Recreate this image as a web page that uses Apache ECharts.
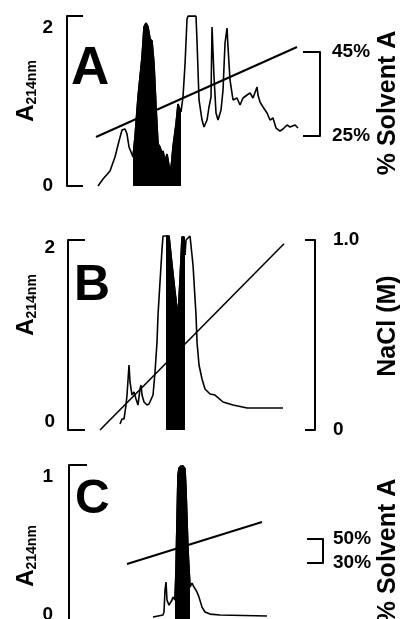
<!DOCTYPE html>
<html>
<head>
<meta charset="utf-8">
<script src="https://cdn.jsdelivr.net/npm/echarts@6/dist/echarts.min.js"></script>
<style>
html,body{margin:0;padding:0;background:#fff;}
#chart{width:401px;height:619px;}
</style>
</head>
<body>
<div id="chart"></div>
<script>
// ---- Data (x: relative elution position 0-100, y: absorbance / gradient) ----
const panelLetters = ['A', 'B', 'C'];

const aTrace = [[12.25,0],[14.23,0.089],[17.0,0.19],[18.97,0.367],[20.56,0.57],[21.74,0.709],[22.93,0.722],[23.72,0.658],[24.51,0.494],[26.09,0.367],[26.88,0.62],[28.07,1.127],[29.65,1.633],[30.44,2.013],[31.23,2.063],[32.02,2.013],[32.81,1.861],[33.6,1.835],[34.39,1.544],[35.18,1.0],[35.97,0.532],[36.76,0.494],[37.55,0.405],[37.95,0.443],[38.74,0.304],[39.53,0.405],[40.32,0.253],[41.11,0.215],[41.9,0.494],[43.09,0.785],[43.88,1.038],[44.27,1.0],[45.06,0.937],[45.85,1.127],[46.65,1.544],[47.44,2.114],[47.83,2.15],[50.99,2.15],[51.39,1.835],[52.18,1.089],[53.37,0.835],[54.16,0.747],[55.34,0.835],[56.13,1.0],[56.92,1.127],[57.32,2.013],[57.71,2.013],[58.11,1.38],[58.9,0.924],[59.69,0.835],[60.88,0.962],[61.67,1.215],[62.46,1.81],[63.25,2.0],[63.64,1.759],[64.43,1.342],[65.62,1.089],[67.2,1.114],[68.39,1.025],[69.57,1.114],[71.15,1.152],[72.34,1.177],[73.53,1.114],[75.11,1.253],[75.5,1.152],[76.29,1.063],[77.48,1.0],[79.06,0.924],[80.25,0.835],[81.43,0.861],[82.62,0.734],[84.2,0.696],[85.39,0.722],[86.97,0.772],[88.15,0.747],[90.13,0.772],[91.31,0.734]];
const aFillRange = [26.09, 45.06];
const aGradient = [[11.46,24.76],[90.92,46.19]];
const aTicksLeft = [0, 2];
const aTicksRight = [25, 45];

const bTrace = [[21.05,-0.023],[21.86,0.034],[22.67,0.034],[23.48,0.195],[23.89,0.31],[24.70,0.655],[25.10,0.46],[25.91,0.31],[26.72,0.345],[27.53,0.264],[28.34,0.195],[29.15,0.379],[29.56,0.425],[29.96,0.31],[30.77,0.23],[31.99,0.195],[32.80,0.207],[34.42,0.31],[35.23,0.575],[36.04,0.92],[36.44,1.23],[37.25,1.609],[38.06,1.989],[38.47,2.138],[39.68,2.138],[40.89,2.138],[42.11,1.805],[43.32,1.494],[44.54,1.207],[45.35,1.632],[46.16,2.126],[46.97,2.126],[47.37,1.92],[47.78,2.092],[49.40,2.138],[50.61,1.805],[51.83,1.23],[52.23,0.92],[53.04,0.655],[54.26,0.494],[55.47,0.379],[57.50,0.322],[59.52,0.31],[62.76,0.23],[66.81,0.195],[72.48,0.161],[87.05,0.161]];
const bFillRange = [39.68, 47.37];
const bGradient = [[12.96,0],[87.46,0.98]];
const bTicksLeft = [0, 2];
const bTicksRight = [0, 1];

const cTrace = [[33.07,-0.014],[37.01,0],[37.40,0.022],[37.80,0.181],[38.19,0.239],[38.58,0.109],[39.37,0.072],[40.55,0.109],[40.94,0.13],[41.73,0.109],[42.13,0.326],[42.52,0.688],[42.91,1.014],[43.31,1.065],[44.09,1.08],[44.88,1.08],[45.67,1.058],[46.06,0.906],[46.85,0.471],[47.64,0.203],[48.43,0.232],[49.21,0.203],[50.39,0.167],[51.18,0.13],[52.36,0.058],[53.54,0.022],[55.51,0.007],[59.45,0],[77.95,-0.007]];
const cFillRange = [41.73, 47.64];
const cGradient = [[22.83,29.2],[75.98,64.2]];
const cTicksLeft = [0, 1];
const cTicksRight = [30, 50];

// ---- Chart ----
const FONT = 'Liberation Sans, Arial, Helvetica, sans-serif';
const chart = echarts.init(document.getElementById('chart'), null, {renderer: 'canvas'});

function inRange(d, r) { return d.filter(p => p[0] >= r[0] && p[0] <= r[1]); }

const absName = '{a|A}{s|214nm}';
const absRich = {
  a: {fontSize: 24, fontWeight: 'bold', fontFamily: FONT, color: '#000', lineHeight: 26},
  s: {fontSize: 14, fontWeight: 'bold', fontFamily: FONT, color: '#000', lineHeight: 10, verticalAlign: 'bottom'}
};

function yAx(o) {
  return Object.assign({
    type: 'value',
    splitLine: {show: false},
    axisLine: {show: true, onZero: false, lineStyle: {color: '#000', width: 2}},
    nameLocation: 'middle',
    nameRotate: 90,
    nameMoveOverlap: false
  }, o);
}
function tickSty(vals, len) {
  return {show: true, inside: true, length: len, customValues: vals, lineStyle: {color: '#000', width: 2}};
}
function labSty(vals, margin, fmt) {
  const s = {show: true, customValues: vals, margin: margin, fontSize: 19, fontWeight: 'bold', fontFamily: FONT, color: '#000'};
  if (fmt) s.formatter = fmt;
  return s;
}
const rightNameStyle = (pad) => ({fontSize: 25, fontWeight: 'bold', fontFamily: FONT, color: '#000', padding: pad});

const lineBase = {type: 'line', symbol: 'none', showSymbol: false, clip: false, silent: true, animation: false};
const gridBase = {outerBoundsMode: 'none', containLabel: false};

const option = {
  backgroundColor: '#fff',
  animation: false,
  title: panelLetters.map((t, i) => ({
    text: t,
    left: [71, 74, 75][i],
    top: [43, 261, 476][i],
    padding: 0,
    textStyle: {fontSize: [53, 50, 48][i], fontWeight: 'bold', fontFamily: FONT, color: '#000'}
  })),
  grid: [
    Object.assign({left: 67, right: 81, top: 16, height: 170}, gridBase),
    Object.assign({left: 67, right: 81, top: 52, height: 84}, gridBase),
    Object.assign({left: 68, right: 86, top: 240, height: 190}, gridBase),
    Object.assign({left: 69, right: 78, top: 465, height: 160}, gridBase),
    Object.assign({left: 69, right: 78, top: 539, height: 24}, gridBase)
  ],
  xAxis: [0, 1, 2, 3, 4].map(i => ({type: 'value', gridIndex: i, min: 0, max: 100, show: false})),
  yAxis: [
    yAx({gridIndex: 0, position: 'left', min: 0, max: 2.152,
      axisTick: tickSty([0, 2.152], 16), axisLabel: labSty(aTicksLeft, 14),
      name: absName, nameGap: 28, nameTextStyle: {rich: absRich, padding: [0, 0, 0, 20]}}),
    yAx({gridIndex: 1, position: 'right', min: 25, max: 45,
      axisTick: tickSty([25, 45], 17), axisLabel: labSty(aTicksRight, 12, '{value}%'),
      name: '% Solvent A', nameGap: 56, nameTextStyle: rightNameStyle([0, 18, 0, 0])}),
    yAx({gridIndex: 2, position: 'left', min: -0.092, max: 2.092,
      axisTick: tickSty([-0.092, 2.092], 17), axisLabel: labSty(bTicksLeft, 13),
      name: absName, nameGap: 29, nameTextStyle: {rich: absRich, padding: [0, 0, 0, 60]}}),
    yAx({gridIndex: 2, position: 'right', min: 0, max: 1,
      axisTick: tickSty([0, 1], 10), axisLabel: labSty(bTicksRight, 18, v => v === 1 ? '1.0' : String(v)),
      name: 'NaCl (M)', nameGap: 61, nameTextStyle: rightNameStyle([0, 0, 0, 18])}),
    yAx({gridIndex: 3, position: 'left', min: -0.072, max: 1.087,
      axisTick: tickSty([-0.072, 1.087], 18), axisLabel: labSty(cTicksLeft, 16),
      name: absName, nameGap: 30, nameTextStyle: {rich: absRich, padding: [0, 22, 0, 0]}}),
    yAx({gridIndex: 4, position: 'right', min: 30, max: 50,
      axisTick: tickSty([30, 50], 16), axisLabel: labSty(cTicksRight, 10, '{value}%'),
      name: '% Solvent A', nameGap: 53, nameTextStyle: rightNameStyle([0, 0, 0, 0])})
  ],
  series: [
    Object.assign({}, lineBase, {xAxisIndex: 0, yAxisIndex: 0, data: aTrace, lineStyle: {color: '#000', width: 1.6}}),
    Object.assign({}, lineBase, {xAxisIndex: 0, yAxisIndex: 0, data: inRange(aTrace, aFillRange), lineStyle: {color: '#000', width: 1.6}, areaStyle: {color: '#000', opacity: 1, origin: 'start'}}),
    Object.assign({}, lineBase, {xAxisIndex: 1, yAxisIndex: 1, data: aGradient, lineStyle: {color: '#000', width: 2}}),

    Object.assign({}, lineBase, {xAxisIndex: 2, yAxisIndex: 2, data: bTrace, lineStyle: {color: '#000', width: 1.6}}),
    Object.assign({}, lineBase, {xAxisIndex: 2, yAxisIndex: 2, data: inRange(bTrace, bFillRange), lineStyle: {color: '#000', width: 1.6}, areaStyle: {color: '#000', opacity: 1, origin: 'start'}}),
    Object.assign({}, lineBase, {xAxisIndex: 2, yAxisIndex: 3, data: bGradient, lineStyle: {color: '#000', width: 1.6}}),

    Object.assign({}, lineBase, {xAxisIndex: 3, yAxisIndex: 4, data: cTrace, lineStyle: {color: '#000', width: 1.6}}),
    Object.assign({}, lineBase, {xAxisIndex: 3, yAxisIndex: 4, data: inRange(cTrace, cFillRange), lineStyle: {color: '#000', width: 1.6}, areaStyle: {color: '#000', opacity: 1, origin: 'start'}}),
    Object.assign({}, lineBase, {xAxisIndex: 4, yAxisIndex: 5, data: cGradient, lineStyle: {color: '#000', width: 2}})
  ]
};
chart.setOption(option);
</script>
</body>
</html>
